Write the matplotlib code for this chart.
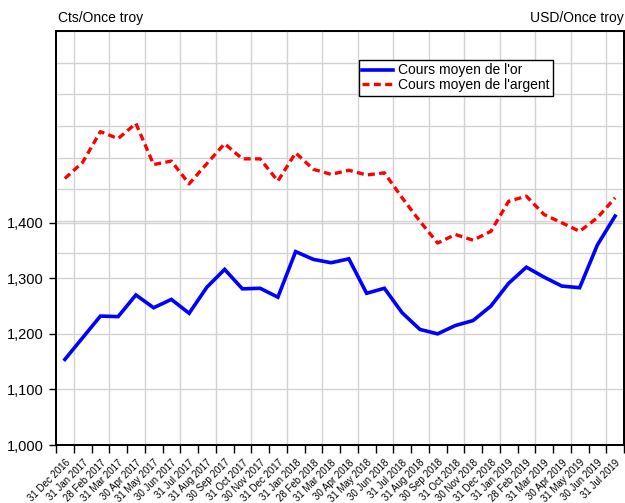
"""
Cours moyen de l'or et de l'argent
"""
import matplotlib
matplotlib.use("Agg")
import matplotlib.pyplot as plt

plt.rcParams['font.family'] = ['Liberation Sans', 'DejaVu Sans']

# mois (fin de mois)
mois = ["31 Dec 2016", "31 Jan 2017", "28 Feb 2017", "31 Mar 2017", "30 Apr 2017",
        "31 May 2017", "30 Jun 2017", "31 Jul 2017", "31 Aug 2017", "30 Sep 2017",
        "31 Oct 2017", "30 Nov 2017", "31 Dec 2017", "31 Jan 2018", "28 Feb 2018",
        "31 Mar 2018", "30 Apr 2018", "31 May 2018", "30 Jun 2018", "31 Jul 2018",
        "31 Aug 2018", "30 Sep 2018", "31 Oct 2018", "30 Nov 2018", "31 Dec 2018",
        "31 Jan 2019", "28 Feb 2019", "31 Mar 2019", "30 Apr 2019", "31 May 2019",
        "30 Jun 2019", "31 Jul 2019"]

# cours moyen de l'or (USD/once)
cours_or = [1154, 1193, 1232, 1231, 1270, 1247, 1262, 1237, 1284, 1316,
            1281, 1282, 1266, 1348, 1334, 1328, 1335, 1273, 1282, 1238,
            1208, 1200, 1215, 1224, 1250, 1291, 1320, 1302, 1286, 1283,
            1360, 1412]

# cours moyen de l'argent (USD/once)
cours_argent = [16.34, 16.85, 17.82, 17.60, 18.08, 16.78, 16.89, 16.17, 16.81, 17.44,
                16.96, 16.96, 16.26, 17.15, 16.63, 16.47, 16.60, 16.45, 16.52, 15.73,
                14.99, 14.30, 14.57, 14.39, 14.67, 15.62, 15.78, 15.20, 14.94, 14.67,
                15.10, 15.73]

y_ticks_or = [1000, 1100, 1200, 1300, 1400]
y_ticks_argent = [14, 15, 16, 17, 18, 19, 20, 21]

fig = plt.figure(figsize=(6.25, 5.03), dpi=100)
ax = fig.add_axes([0.0896, 0.1153, 0.9088, 0.8231])
ax2 = ax.twinx()
# l'axe principal passe devant pour que les courbes couvrent la grille
ax.set_zorder(ax2.get_zorder() + 1)
ax.patch.set_visible(False)

x = [i + 0.5 for i in range(len(mois))]

grille = dict(color='#d2d2d2', linewidth=1.0)
ax2.set_ylim(7.92, 21.0)
ax2.set_yticks(y_ticks_argent)
ax2.tick_params(axis='y', length=0, labelright=False)
ax2.grid(axis='y', **grille)

ax.set_xlim(0, len(mois))
ax.set_ylim(1000, 1745)
ax.set_yticks(y_ticks_or)
ax.set_yticklabels([f"{v:,}" for v in y_ticks_or], fontsize=10.5)
ax.tick_params(axis='y', length=5, width=1, pad=4, direction='out')

# ticks majeurs aux limites de mois, etiquettes au milieu
ax.set_xticks(range(len(mois) + 1))
ax.set_xticklabels([])
ax.tick_params(axis='x', which='major', length=6, width=1, direction='out')
ax.set_xticks(x, minor=True)
ax.set_xticklabels(mois, minor=True, fontsize=7, rotation=45,
                   ha='right', va='top', rotation_mode='anchor')
ax.tick_params(axis='x', which='minor', length=0, pad=9)
ax.grid(axis='y', **grille)
# grille verticale un mois sur deux
for i in range(1, len(mois) + 1, 2):
    ax.axvline(i, zorder=0.5, **grille)

ax.plot(x, cours_or, color='#0000ff', linewidth=2.6, label="Cours moyen de l'or",
        solid_joinstyle='miter', zorder=3)
ax.plot(x, cours_argent, color='#ff0000', linewidth=2.4, linestyle=(0, (2.1, 1.3)),
        label="Cours moyen de l'argent", transform=ax2.transData, zorder=3)
ax.set_ylim(1000, 1745)

for s in ax.spines.values():
    s.set_linewidth(1.3)
for s in ax2.spines.values():
    s.set_linewidth(1.3)

leg = ax.legend(loc='upper left', bbox_to_anchor=(359 / 625, 1 - 60 / 503),
                bbox_transform=fig.transFigure, fontsize=10, frameon=True,
                fancybox=False, borderpad=0.25, labelspacing=0.05,
                handlelength=2.2, handletextpad=0.35, borderaxespad=0)
leg.get_frame().set_edgecolor('black')
leg.get_frame().set_linewidth(1.0)
leg.get_frame().set_alpha(1)

fig.text(58 / 625, 1 - 22 / 503, "Cts/Once troy", fontsize=10, ha='left', va='baseline')
fig.text(624 / 625, 1 - 22 / 503, "USD/Once troy", fontsize=10, ha='right', va='baseline')

plt.savefig("out.png", dpi=100)
plt.close()
